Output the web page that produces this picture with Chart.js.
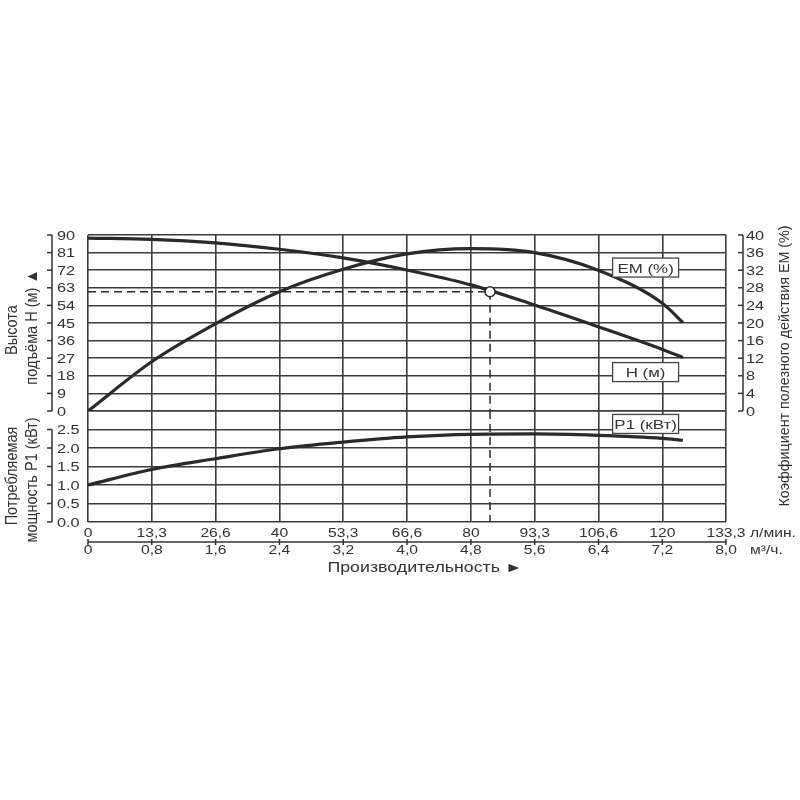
<!DOCTYPE html>
<html><head><meta charset="utf-8">
<script src="https://cdn.jsdelivr.net/npm/chart.js@4/dist/chart.umd.min.js"></script>
<style>html,body{margin:0;padding:0;background:#fff;}canvas{display:block}</style>
</head><body>
<canvas id="c" width="800" height="800" style="width:800px;height:800px"></canvas>
<script>
// ---- data ----
const flowLpm = [0, 13.3, 26.6, 40, 53.3, 66.6, 80, 93.3, 106.6, 120, 124.3];
const headM   = [88.4, 87.8, 86.0, 82.7, 78.3, 72.1, 64.5, 54.2, 43.1, 31.5, 27.4];
const effPct  = [0, 11.2, 19.8, 27.1, 32.2, 35.7, 36.9, 36.0, 32.0, 24.5, 20.1];
const powerKw = [1.0, 1.42, 1.71, 1.98, 2.16, 2.30, 2.37, 2.38, 2.34, 2.26, 2.21];
const dutyFlow = [84];
const dutyHead = [61];
const flowTicks = [0, 13.33, 26.66, 40, 53.33, 66.66, 80, 93.33, 106.66, 120, 133.3];
const flowTickLabels = ['0','13,3','26,6','40','53,3','66,6','80','93,3','106,6','120','133,3'];
const m3hTickLabels  = ['0','0,8','1,6','2,4','3,2','4,0','4,8','5,6','6,4','7,2','8,0'];
const headTicks  = [0, 9, 18, 27, 36, 45, 54, 63, 72, 81, 90];
const effTicks   = [0, 4, 8, 12, 16, 20, 24, 28, 32, 36, 40];
const powerTicks = [0, 0.5, 1.0, 1.5, 2.0, 2.5, 3.0];
const powerTickLabels = ['0.0','0.5','1.0','1.5','2.0','2.5'];
const seriesNames = ['H (м)', 'EM (%)', 'P1 (кВт)'];

const INK = '#333333';
const CURVE = '#2a2a2a';
const GRID = '#3c3c3c';
const FONT = '"Liberation Sans", Arial, sans-serif';

function pts(xs, ys) { return xs.map((x, i) => ({x: x, y: ys[i]})); }

function txt(ctx, s, x, y, o) {
  ctx.save();
  ctx.translate(x, y);
  ctx.scale(o.sx || 1, 1);
  if (o.rot) ctx.rotate(o.rot);
  ctx.font = (o.size || 12) + 'px ' + FONT;
  ctx.textAlign = o.align || 'left';
  ctx.textBaseline = o.base || 'alphabetic';
  ctx.fillStyle = INK;
  ctx.fillText(s, 0, 0);
  ctx.restore();
}
function seg(ctx, x1, y1, x2, y2) {
  ctx.beginPath(); ctx.moveTo(x1, y1); ctx.lineTo(x2, y2); ctx.stroke();
}

const deco = {
  id: 'deco',
  afterDatasetsDraw(chart) {
    const ctx = chart.ctx;
    const {x, yH, yEM, yP} = chart.scales;
    // vertical dashed line through the power panel
    ctx.save();
    ctx.strokeStyle = CURVE; ctx.lineWidth = 1.5; ctx.setLineDash([8, 5]);
    seg(ctx, x.getPixelForValue(dutyFlow[0]), yP.getPixelForValue(3), x.getPixelForValue(dutyFlow[0]), yP.getPixelForValue(0));
    ctx.restore();
    // series labels in boxes
    const boxes = [
      [seriesNames[1], x.getPixelForValue(116.5), yEM.getPixelForValue(32.6)],
      [seriesNames[0], x.getPixelForValue(116.5), yH.getPixelForValue(19.9)],
      [seriesNames[2], x.getPixelForValue(116.5), yP.getPixelForValue(2.65)]
    ];
    boxes.forEach(b => {
      ctx.save();
      ctx.fillStyle = '#fff'; ctx.strokeStyle = '#444'; ctx.lineWidth = 1.3;
      ctx.fillRect(b[1] - 33, b[2] - 9.5, 66, 19);
      ctx.strokeRect(b[1] - 33, b[2] - 9.5, 66, 19);
      ctx.restore();
      txt(ctx, b[0], b[1], b[2] + 5, {size: 13, sx: 1.3, align: 'center'});
    });
  },
  afterDraw(chart) {
    const ctx = chart.ctx;
    const ca = chart.chartArea;
    const {x, yH, yEM, yP} = chart.scales;
    ctx.save();
    ctx.strokeStyle = INK; ctx.lineWidth = 1.5;
    // left head axis
    const axL = ca.left - 36;
    seg(ctx, axL, yH.getPixelForValue(90), axL, yH.getPixelForValue(0));
    headTicks.forEach(v => {
      const py = yH.getPixelForValue(v);
      seg(ctx, axL - 5, py, axL, py);
      txt(ctx, String(v), axL + 5, py + 4.5, {size: 12.5, sx: 1.3});
    });
    // left power axis
    seg(ctx, axL, yP.getPixelForValue(2.5), axL, yP.getPixelForValue(0));
    powerTickLabels.forEach((lab, i) => {
      const py = yP.getPixelForValue(powerTicks[i]);
      seg(ctx, axL - 5, py, axL, py);
      txt(ctx, lab, axL + 5, py + 4.5, {size: 12.5, sx: 1.3});
    });
    // right efficiency axis
    const axR = ca.right + 17;
    seg(ctx, axR, yEM.getPixelForValue(40), axR, yEM.getPixelForValue(0));
    effTicks.forEach(v => {
      const py = yEM.getPixelForValue(v);
      seg(ctx, axR - 5, py, axR, py);
      txt(ctx, String(v), axR + 3, py + 4.5, {size: 12.5, sx: 1.3});
    });
    // bottom double flow axis
    const axB = ca.bottom + 20;
    seg(ctx, ca.left, axB, ca.right, axB);
    flowTicks.forEach((v, i) => {
      const px = x.getPixelForValue(v);
      seg(ctx, px, axB - 3, px, axB + 3);
      txt(ctx, flowTickLabels[i], px, axB - 5, {size: 12.5, sx: 1.25, align: 'center'});
      txt(ctx, m3hTickLabels[i], px, axB + 12, {size: 12.5, sx: 1.25, align: 'center'});
    });
    txt(ctx, 'л/мин.', ca.right + 24, axB - 5, {size: 12.5, sx: 1.25});
    txt(ctx, 'м³/ч.', ca.right + 24, axB + 12, {size: 12.5, sx: 1.25});
    // axis titles
    txt(ctx, 'Производительность ►', ca.left + 337, axB + 30, {size: 14, sx: 1.27, align: 'center'});
    const rot = -Math.PI / 2;
    txt(ctx, 'Высота', 17, 330, {size: 14.5, sx: 1.15, rot: rot, align: 'center'});
    txt(ctx, 'подъёма H (м) ▲', 37, 327, {size: 14.5, sx: 1.15, rot: rot, align: 'center'});
    txt(ctx, 'Потребляемая', 17, 476, {size: 14.5, sx: 1.15, rot: rot, align: 'center'});
    txt(ctx, 'мощность P1 (кВт)', 37, 480, {size: 14.5, sx: 1.15, rot: rot, align: 'center'});
    txt(ctx, 'Коэффициент полезного действия EM (%)', 789, 366, {size: 14.3, sx: 1.08, rot: rot, align: 'center'});
    ctx.restore();
  }
};

const gridOpts = {color: GRID, lineWidth: 1.6, drawTicks: false};
const curveStyle = {borderColor: CURVE, borderWidth: 3.2, pointRadius: 0, cubicInterpolationMode: 'monotone', fill: false};

new Chart(document.getElementById('c'), {
  type: 'line',
  data: {
    datasets: [
      {label: 'duty', data: pts(dutyFlow, dutyHead), yAxisID: 'yH', showLine: false,
       pointRadius: 5, pointBackgroundColor: '#fff', pointBorderColor: CURVE, pointBorderWidth: 1.5},
      Object.assign({label: seriesNames[0], data: pts(flowLpm, headM), yAxisID: 'yH'}, curveStyle),
      Object.assign({label: seriesNames[1], data: pts(flowLpm, effPct), yAxisID: 'yEM'}, curveStyle),
      Object.assign({label: seriesNames[2], data: pts(flowLpm, powerKw), yAxisID: 'yP'}, curveStyle),
      {label: 'dutyH', data: [{x: 0, y: dutyHead[0]}, {x: dutyFlow[0], y: dutyHead[0]}], yAxisID: 'yH',
       borderColor: CURVE, borderWidth: 1.5, borderDash: [8, 5], pointRadius: 0, tension: 0},
      {label: 'dutyV', data: [{x: dutyFlow[0], y: dutyHead[0]}, {x: dutyFlow[0], y: 0}], yAxisID: 'yH',
       borderColor: CURVE, borderWidth: 1.5, borderDash: [8, 5], pointRadius: 0, tension: 0}
    ]
  },
  options: {
    responsive: false,
    animation: false,
    devicePixelRatio: 1,
    layout: {padding: {left: 88, right: 74, top: 235, bottom: 278}},
    plugins: {legend: {display: false}, tooltip: {enabled: false}, title: {display: false}},
    scales: {
      x: {type: 'linear', position: 'bottom', min: 0, max: 133.3,
          afterBuildTicks: s => { s.ticks = flowTicks.map(v => ({value: v})); },
          grid: gridOpts, border: {display: false}, ticks: {display: false}},
      yP: {type: 'linear', position: 'left', stack: 'L', stackWeight: 111, min: 0, max: 3,
           afterBuildTicks: s => { s.ticks = powerTicks.map(v => ({value: v})); },
           grid: gridOpts, border: {display: false}, ticks: {display: false}},
      yH: {type: 'linear', position: 'left', stack: 'L', stackWeight: 176, min: 0, max: 90,
           afterBuildTicks: s => { s.ticks = headTicks.map(v => ({value: v})); },
           grid: gridOpts, border: {display: false}, ticks: {display: false}},
      yEM: {type: 'linear', position: 'right', stack: 'R', stackWeight: 176, min: 0, max: 40,
            afterBuildTicks: s => { s.ticks = effTicks.map(v => ({value: v})); },
            grid: {display: false, drawTicks: false}, border: {display: false}, ticks: {display: false}},
      yPR: {type: 'linear', position: 'right', stack: 'R', stackWeight: 111, min: 0, max: 3,
            display: false}
    }
  },
  plugins: [deco]
});
</script>
</body></html>
